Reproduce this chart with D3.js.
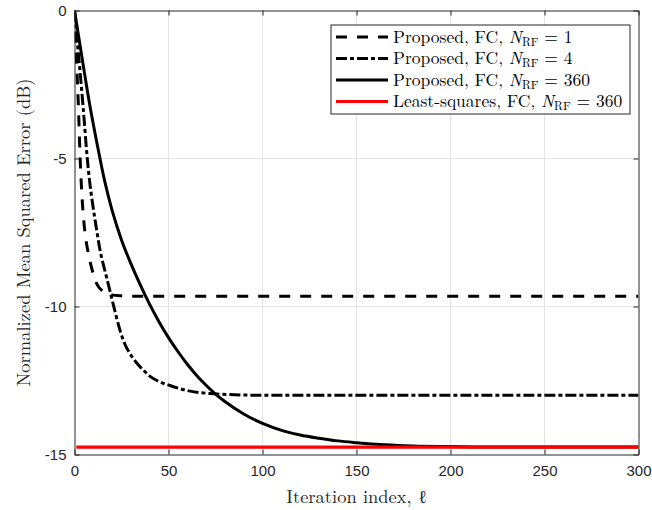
<!DOCTYPE html>
<html>
<head>
<meta charset="utf-8">
<script src="https://cdn.jsdelivr.net/npm/d3@7"></script>
<style>
  body { margin: 0; background: #fff; }
  svg { display: block; }
  .tick text { font-family: "Liberation Sans", Arial, sans-serif; font-size: 15px; fill: #262626; }
</style>
</head>
<body>
<div id="chart"></div>
<script>
// Proposed, FC, N_RF = 1
const iterA = [0, 1, 2, 3, 4, 5, 6, 8, 10, 12, 15, 19, 25, 30, 300];
const nmseA = [0, -1.6, -3.1, -5.0, -6.3, -7.15, -7.7, -8.4, -8.9, -9.25, -9.48, -9.6, -9.64, -9.65, -9.65];

// Proposed, FC, N_RF = 4
const iterB = [0, 1, 2, 3, 4.7, 6.8, 8, 9.8, 12, 13.6, 16, 18, 20.7, 24.2, 27, 29.6, 33, 36.6, 40, 43.8, 50.8, 60, 72, 85, 100, 300];
const nmseB = [0, -0.7, -1.4, -2.1, -3.35, -5.0, -5.75, -6.6, -7.5, -8.1, -8.75, -9.25, -9.95, -10.8, -11.3, -11.6, -11.9, -12.15, -12.35, -12.5, -12.67, -12.84, -12.94, -12.98, -13.0, -13.0];

// Proposed, FC, N_RF = 360
const iterC = [0, 4, 8, 12, 16, 20, 25, 30, 35, 40, 45, 50, 55, 60, 65, 70, 75, 80, 90, 100, 111, 120, 130, 140, 150, 165, 180, 200, 230, 300];
const nmseC = [0, -1.6, -3.15, -4.5, -5.75, -6.75, -7.75, -8.55, -9.27, -9.93, -10.52, -11.05, -11.52, -11.95, -12.33, -12.66, -12.96, -13.21, -13.63, -13.95, -14.2, -14.34, -14.45, -14.54, -14.6, -14.67, -14.71, -14.73, -14.75, -14.75];

// Least-squares, FC, N_RF = 360
const iterD = [1, 300];
const nmseD = [-14.75, -14.75];

const xTicks = [0, 50, 100, 150, 200, 250, 300];
const yTicks = [0, -5, -10, -15];

const legendRows = [
    { pre: "Proposed, FC, ", post: " = 1" },
    { pre: "Proposed, FC, ", post: " = 4" },
    { pre: "Proposed, FC, ", post: " = 360" },
    { pre: "Least-squares, FC, ", post: " = 360" }
];

const W = 652, H = 510;
const margin = { left: 74.5, top: 10.5, right: 13.5, bottom: 55.5 };
const iw = W - margin.left - margin.right;
const ih = H - margin.top - margin.bottom;

const styles = [
    { color: "#000", dash: "11,10", width: 3 },
    { color: "#000", dash: "11,3,4,3", width: 3 },
    { color: "#000", dash: null, width: 3 },
    { color: "#ff0000", dash: null, width: 3.2 }
];

const series = [
    iterA.map((x, i) => [x, nmseA[i]]),
    iterB.map((x, i) => [x, nmseB[i]]),
    iterC.map((x, i) => [x, nmseC[i]]),
    iterD.map((x, i) => [x, nmseD[i]])
];

const svg = d3.select("#chart").append("svg")
    .attr("width", W)
    .attr("height", H);

const g = svg.append("g").attr("transform", `translate(${margin.left},${margin.top})`);

const x = d3.scaleLinear().domain([0, 300]).range([0, iw]);
const y = d3.scaleLinear().domain([-15, 0]).range([ih, 0]);

// grid
g.append("g").selectAll("line").data(xTicks.slice(1, -1)).join("line")
    .attr("x1", d => x(d)).attr("x2", d => x(d))
    .attr("y1", 0).attr("y2", ih)
    .attr("stroke", "#e3e3e3").attr("stroke-width", 1);
g.append("g").selectAll("line").data(yTicks.slice(1, -1)).join("line")
    .attr("y1", d => y(d)).attr("y2", d => y(d))
    .attr("x1", 0).attr("x2", iw)
    .attr("stroke", "#e3e3e3").attr("stroke-width", 1);

// curves
const line = d3.line()
    .x(d => x(d[0]))
    .y(d => y(d[1]))
    .curve(d3.curveMonotoneX);

svg.append("clipPath").attr("id", "clip")
    .append("rect").attr("width", iw).attr("height", ih);

g.append("g").attr("clip-path", "url(#clip)")
    .selectAll("path").data(series).join("path")
    .attr("d", line)
    .attr("fill", "none")
    .attr("stroke", (d, i) => styles[i].color)
    .attr("stroke-width", (d, i) => styles[i].width)
    .attr("stroke-dasharray", (d, i) => styles[i].dash);

// axes
const axisColor = "#262626";
const xAxis = g.append("g").attr("transform", `translate(0,${ih})`)
    .call(d3.axisBottom(x).tickValues(xTicks).tickSizeInner(-5).tickSizeOuter(0).tickPadding(11));
const xTop = g.append("g")
    .call(d3.axisTop(x).tickValues(xTicks).tickSizeInner(-5).tickSizeOuter(0).tickFormat(""));
const yAxis = g.append("g")
    .call(d3.axisLeft(y).tickValues(yTicks).tickSizeInner(-5).tickSizeOuter(0).tickPadding(8)
        .tickFormat(d => d === 0 ? "0" : "-" + Math.abs(d)));
const yRight = g.append("g").attr("transform", `translate(${iw},0)`)
    .call(d3.axisRight(y).tickValues(yTicks).tickSizeInner(-5).tickSizeOuter(0).tickFormat(""));

[xAxis, xTop, yAxis, yRight].forEach(a => {
    a.select(".domain").attr("stroke", axisColor).attr("stroke-width", 1);
    a.selectAll(".tick line").attr("stroke", axisColor);
});

// axis titles
const serif = "'Latin Modern Roman', 'DejaVu Serif', serif";
svg.append("text")
    .attr("x", margin.left + iw / 2).attr("y", 503)
    .attr("text-anchor", "middle")
    .attr("font-family", serif).attr("font-size", 18.5).attr("fill", axisColor)
    .text("Iteration index, \u2113");

svg.append("text")
    .attr("transform", `translate(30,${margin.top + ih / 2}) rotate(-90)`)
    .attr("text-anchor", "middle")
    .attr("font-family", serif).attr("font-size", 18.5).attr("fill", axisColor)
    .text("Normalized Mean Squared Error (dB)");

// legend
const leg = svg.append("g").attr("transform", "translate(331,25)");
leg.append("rect")
    .attr("width", 299).attr("height", 89)
    .attr("fill", "#fff").attr("stroke", axisColor).attr("stroke-width", 1);

const rowY = i => 12 + i * 21.5;
leg.selectAll("line.sample").data(legendRows).join("line")
    .attr("class", "sample")
    .attr("x1", 5).attr("x2", 57)
    .attr("y1", (d, i) => rowY(i)).attr("y2", (d, i) => rowY(i))
    .attr("stroke", (d, i) => styles[i].color)
    .attr("stroke-width", (d, i) => styles[i].width)
    .attr("stroke-dasharray", (d, i) => styles[i].dash);

const txt = leg.selectAll("text").data(legendRows).join("text")
    .attr("x", 62).attr("y", (d, i) => rowY(i) + 5.5)
    .attr("font-family", serif).attr("font-size", 17.5).attr("fill", "#000");
txt.append("tspan").text(d => d.pre);
txt.append("tspan").attr("font-style", "italic").text("N");
txt.append("tspan").attr("font-size", 12).attr("dy", 3).text("RF");
txt.append("tspan").attr("dy", -3).text(d => d.post);
</script>
</body>
</html>
